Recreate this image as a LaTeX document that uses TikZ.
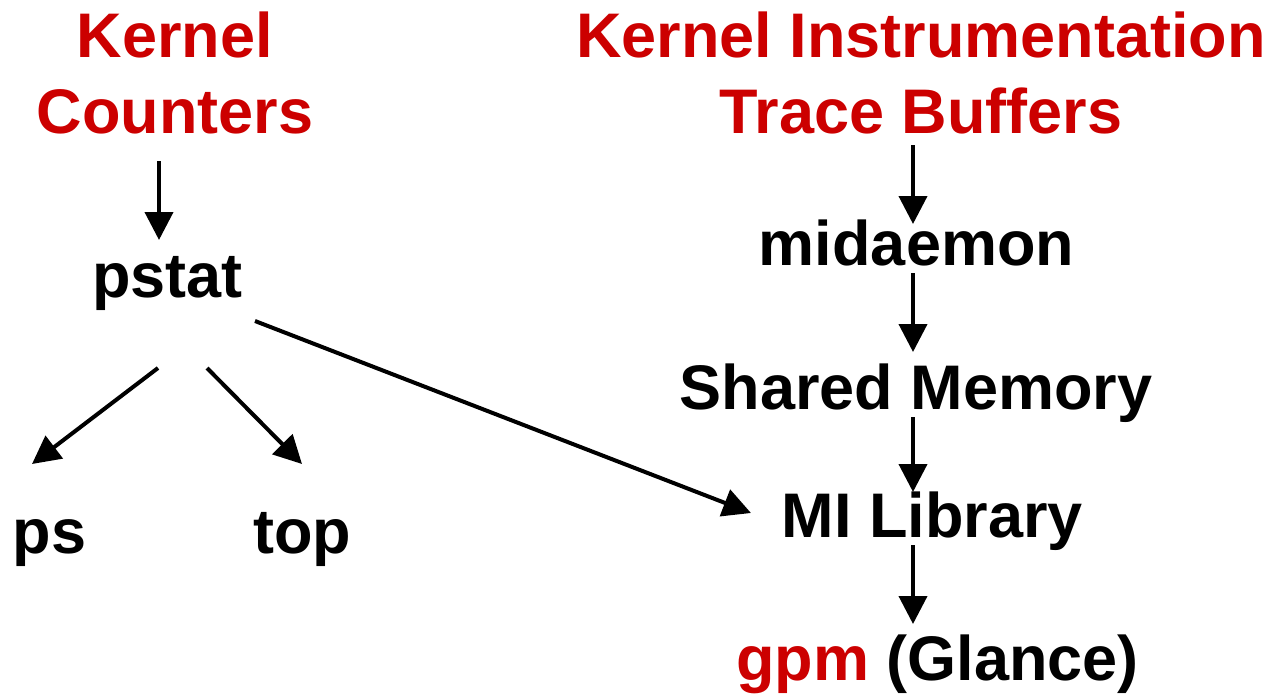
\documentclass[tikz,border=0pt]{standalone}
\usepackage{fontspec}
\setmainfont{Liberation Sans}
\usetikzlibrary{arrows.meta,calc}
\definecolor{titlered}{HTML}{CC0000}
\begin{document}
\begin{tikzpicture}[x=1pt,y=-1pt,
  lbl/.style={font=\fontsize{63}{76}\selectfont\bfseries,inner sep=0pt,anchor=base,align=center},
  title/.style={lbl,text=titlered},
  arr/.style={line width=4pt,-{Triangle[width=28pt,length=28pt]}}]
\useasboundingbox (0,0) rectangle (1275,694);

% sources (base anchor sits on the last line)
\node[title] (kc) at (175,133) {Kernel\\Counters};
\node[title] (ki) at (921,133) {Kernel Instrumentation\\Trace Buffers};

% left chain
\node[lbl] (pstat) at (167.5,297) {pstat};
\node[lbl] (ps)    at (49.5,553)  {ps};
\node[lbl] (top)   at (302,553)   {top};

% right chain
\node[lbl] (mid) at (916.5,265) {midaemon};
\node[lbl] (shm) at (916,409)   {Shared Memory};
\node[lbl] (mil) at (932.5,537) {MI Library};
\node[lbl] (gpm) at (937.5,680) {\textcolor{titlered}{gpm} (Glance)};

% connectors
\draw[arr] ([shift={(-16,28)}]kc.base) -- ([shift={(-8.5,-57)}]pstat.base);
\draw[arr] ([shift={(-8,12)}]ki.base) -- ([shift={(-3.5,-41)}]mid.base);
\draw[arr] ([shift={(-3.5,8)}]mid.base) -- ([shift={(-3,-57)}]shm.base);
\draw[arr] ([shift={(-3,8)}]shm.base) -- ([shift={(-19.5,-45)}]mil.base);
\draw[arr] ([shift={(-19.5,8)}]mil.base) -- ([shift={(-24.5,-56)}]gpm.base);
\draw[arr] ([shift={(-9.5,71)}]pstat.base) -- ([shift={(-17.5,-89)}]ps.base);
\draw[arr] ([shift={(39.5,71)}]pstat.base) -- ([shift={(0,-89)}]top.base);
\draw[arr] ([shift={(87.5,24)}]pstat.base) -- ([shift={(-181.5,-24)}]mil.base);
\end{tikzpicture}
\end{document}
